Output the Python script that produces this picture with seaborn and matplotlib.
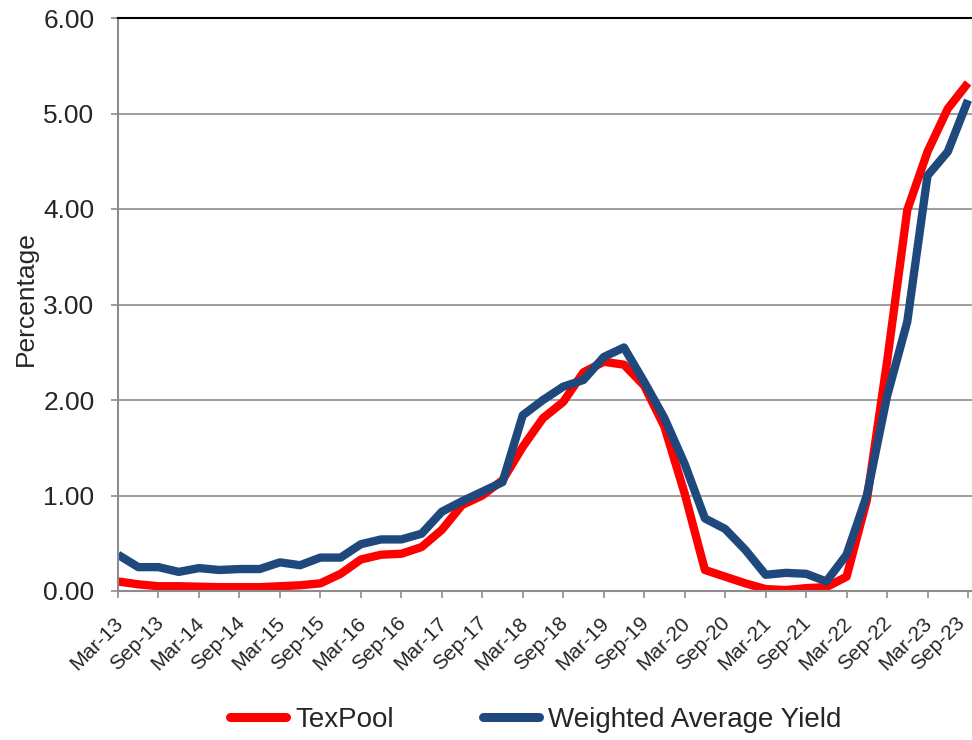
import numpy as np
import pandas as pd
import matplotlib
matplotlib.use("Agg")
import matplotlib.pyplot as plt
import matplotlib.transforms as mtransforms
import seaborn as sns

# quarter end labels, Mar-13 .. Sep-23
quarters = ["Mar-13", "Jun-13", "Sep-13", "Dec-13", "Mar-14", "Jun-14", "Sep-14", "Dec-14",
            "Mar-15", "Jun-15", "Sep-15", "Dec-15", "Mar-16", "Jun-16", "Sep-16", "Dec-16",
            "Mar-17", "Jun-17", "Sep-17", "Dec-17", "Mar-18", "Jun-18", "Sep-18", "Dec-18",
            "Mar-19", "Jun-19", "Sep-19", "Dec-19", "Mar-20", "Jun-20", "Sep-20", "Dec-20",
            "Mar-21", "Jun-21", "Sep-21", "Dec-21", "Mar-22", "Jun-22", "Sep-22", "Dec-22",
            "Mar-23", "Jun-23", "Sep-23"]

texpool = [0.10, 0.07, 0.05, 0.05, 0.045, 0.04, 0.04, 0.04, 0.05, 0.06, 0.08, 0.18,
           0.33, 0.38, 0.39, 0.46, 0.64, 0.90, 1.00, 1.16,
           1.51, 1.81, 1.98, 2.29, 2.40, 2.37, 2.15, 1.72,
           1.02, 0.22, 0.15, 0.08, 0.02, 0.01, 0.03, 0.04,
           0.15, 0.95, 2.40, 3.99, 4.60, 5.05, 5.32]

weighted = [0.38, 0.25, 0.25, 0.20, 0.24, 0.22, 0.23, 0.23, 0.30, 0.27, 0.35, 0.35,
            0.49, 0.54, 0.54, 0.60, 0.83, 0.94, 1.04, 1.14,
            1.84, 2.00, 2.14, 2.21, 2.45, 2.55, 2.19, 1.81,
            1.33, 0.76, 0.65, 0.43, 0.17, 0.19, 0.18, 0.10,
            0.38, 1.00, 2.04, 2.82, 4.35, 4.60, 5.14]

tick_labels = ["Mar-13", "Sep-13", "Mar-14", "Sep-14", "Mar-15", "Sep-15", "Mar-16",
               "Sep-16", "Mar-17", "Sep-17", "Mar-18", "Sep-18", "Mar-19", "Sep-19",
               "Mar-20", "Sep-20", "Mar-21", "Sep-21", "Mar-22", "Sep-22", "Mar-23",
               "Sep-23"]

series_names = ["TexPool", "Weighted Average Yield"]
colors = {"TexPool": "#FF0000", "Weighted Average Yield": "#1F497D"}

# long form table for seaborn
data = pd.DataFrame({
    "pos": list(range(len(quarters))) * 2,
    "quarter": quarters * 2,
    "value": texpool + weighted,
    "series": [series_names[0]] * len(quarters) + [series_names[1]] * len(quarters),
})

sns.set_style("white")
plt.rcParams["font.family"] = ["Liberation Sans", "DejaVu Sans"]

fig = plt.figure(figsize=(9.72, 7.4), dpi=100)
ax = fig.add_axes([118 / 972, 149 / 740, 854 / 972, 573 / 740])

sns.lineplot(data=data, x="pos", y="value", hue="series", hue_order=series_names,
             palette=colors, linewidth=6.0, ax=ax, legend=True)
for line in ax.get_lines():
    line.set_solid_joinstyle("round")
    line.set_solid_capstyle("butt")

# axes styling
ax.set_xlim(0, 42 * 854 / 850)
ax.set_ylim(0, 6)
ax.set_yticks(np.arange(0, 7, 1))
ax.set_yticklabels(["%.2f" % v for v in np.arange(0, 7, 1)])
ax.set_xticks(list(range(0, len(quarters), 2)))

ax.yaxis.grid(True, color="#8C8C8C", linewidth=1.2)
ax.xaxis.grid(False)
ax.set_axisbelow(True)

for side in ["left", "bottom"]:
    ax.spines[side].set_color("#8C8C8C")
    ax.spines[side].set_linewidth(1.5)
ax.spines["top"].set_color("black")
ax.spines["top"].set_linewidth(1.5)
ax.spines["right"].set_color("#D9D9D9")
ax.spines["right"].set_linewidth(1.0)

ax.tick_params(axis="y", direction="out", length=5, width=1.2, color="#8C8C8C",
               labelsize=19, pad=12, left=True)
ax.tick_params(axis="x", direction="out", length=5, width=1.2, color="#8C8C8C",
               labelsize=15, pad=16, bottom=True)

ax.set_xticklabels(tick_labels, rotation=45, ha="right", va="center",
                   rotation_mode="anchor")
# nudge the slanted labels; the last one a bit left so it stays inside
xlabels = ax.get_xticklabels()
for i, lab in enumerate(xlabels):
    dx = 2 if i < len(xlabels) - 1 else -6
    shift = mtransforms.ScaledTranslation(dx / 100, 0, fig.dpi_scale_trans)
    lab.set_transform(lab.get_transform() + shift)

ax.set_xlabel("")
ax.set_ylabel("Percentage", fontsize=19)
ax.yaxis.set_label_coords(-0.094, 0.511)

handles, labels = ax.get_legend_handles_labels()
for h in handles:
    h.set_linewidth(6.5)
    h.set_solid_capstyle("round")
ax.legend(handles, labels, loc="center", bbox_to_anchor=(536 / 972, 20 / 740),
          bbox_transform=fig.transFigure, ncol=2, frameon=False, fontsize=20,
          handlelength=2.0, handletextpad=0.35, columnspacing=3.2)

plt.savefig("out.png", dpi=100)
